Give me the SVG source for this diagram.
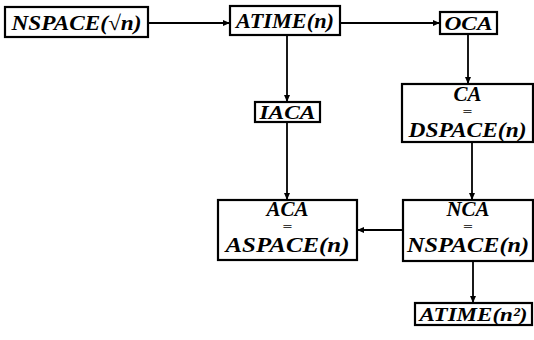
<svg xmlns="http://www.w3.org/2000/svg" width="534" height="340" viewBox="0 0 534 340">
<defs>
<marker id="ah" viewBox="0 0 8 8" refX="7" refY="4" markerWidth="7" markerHeight="7" markerUnits="userSpaceOnUse" orient="auto">
<path d="M0,0.5 L8,4 L0,7.5 z" fill="#000"/>
</marker>
<style>
.box{fill:#fff;stroke:#000;stroke-width:2.2}
.t{font-family:'Liberation Serif','Times New Roman',serif;font-weight:700;font-style:italic;font-size:21px;text-anchor:middle;fill:#000}
.eq{font-family:'Liberation Serif','Times New Roman',serif;font-weight:700;font-size:10px;text-anchor:middle;fill:#000}
.c{stroke:#000;stroke-width:1.8;fill:none;marker-end:url(#ah)}
</style>
</defs>
<rect width="534" height="340" fill="#fff"/>
<g id="connectors">
<line class="c" x1="148" y1="23" x2="229" y2="23"/>
<line class="c" x1="340" y1="23" x2="439" y2="23"/>
<line class="c" x1="287" y1="35" x2="287" y2="101"/>
<line class="c" x1="287" y1="122" x2="287" y2="199"/>
<line class="c" x1="468" y1="34" x2="468" y2="83"/>
<line class="c" x1="472" y1="142" x2="472" y2="199"/>
<line class="c" x1="403" y1="230" x2="358" y2="230"/>
<line class="c" x1="473" y1="261" x2="473" y2="302"/>
</g>
<g id="nspace_sqrt">
<rect class="box" x="5" y="7" width="143" height="30"/>
<text class="t" x="76.5" y="30" textLength="130" lengthAdjust="spacingAndGlyphs">NSPACE(√n)</text>
</g>
<g id="atime_n">
<rect class="box" x="230" y="6" width="110" height="29"/>
<text class="t" x="285" y="28" textLength="98" lengthAdjust="spacingAndGlyphs">ATIME(n)</text>
</g>
<g id="oca">
<rect class="box" x="440" y="12" width="57" height="22"/>
<text class="t" x="468.5" y="30" style="font-size:19px" textLength="48" lengthAdjust="spacingAndGlyphs">OCA</text>
</g>
<g id="iaca">
<rect class="box" x="255" y="102" width="65" height="20"/>
<text class="t" x="287.5" y="119" style="font-size:18px" textLength="56" lengthAdjust="spacingAndGlyphs">IACA</text>
</g>
<g id="ca">
<rect class="box" x="402" y="84" width="131" height="58"/>
<text class="t" x="467.5" y="101">CA</text>
<text class="eq" x="467.5" y="115" textLength="10" lengthAdjust="spacingAndGlyphs">=</text>
<text class="t" x="467.5" y="137" textLength="118" lengthAdjust="spacingAndGlyphs">DSPACE(n)</text>
</g>
<g id="aca">
<rect class="box" x="218" y="200" width="139" height="60"/>
<text class="t" x="287.5" y="216">ACA</text>
<text class="eq" x="287.5" y="230" textLength="10" lengthAdjust="spacingAndGlyphs">=</text>
<text class="t" x="287.5" y="252" textLength="124" lengthAdjust="spacingAndGlyphs">ASPACE(n)</text>
</g>
<g id="nca">
<rect class="box" x="403" y="200" width="130" height="61"/>
<text class="t" x="468" y="216">NCA</text>
<text class="eq" x="468" y="230" textLength="10" lengthAdjust="spacingAndGlyphs">=</text>
<text class="t" x="468" y="252" textLength="122" lengthAdjust="spacingAndGlyphs">NSPACE(n)</text>
</g>
<g id="atime_n2">
<rect class="box" x="415" y="303" width="117" height="22"/>
<text class="t" x="473.5" y="321" style="font-size:19px" textLength="108" lengthAdjust="spacingAndGlyphs">ATIME(n²)</text>
</g>
</svg>
